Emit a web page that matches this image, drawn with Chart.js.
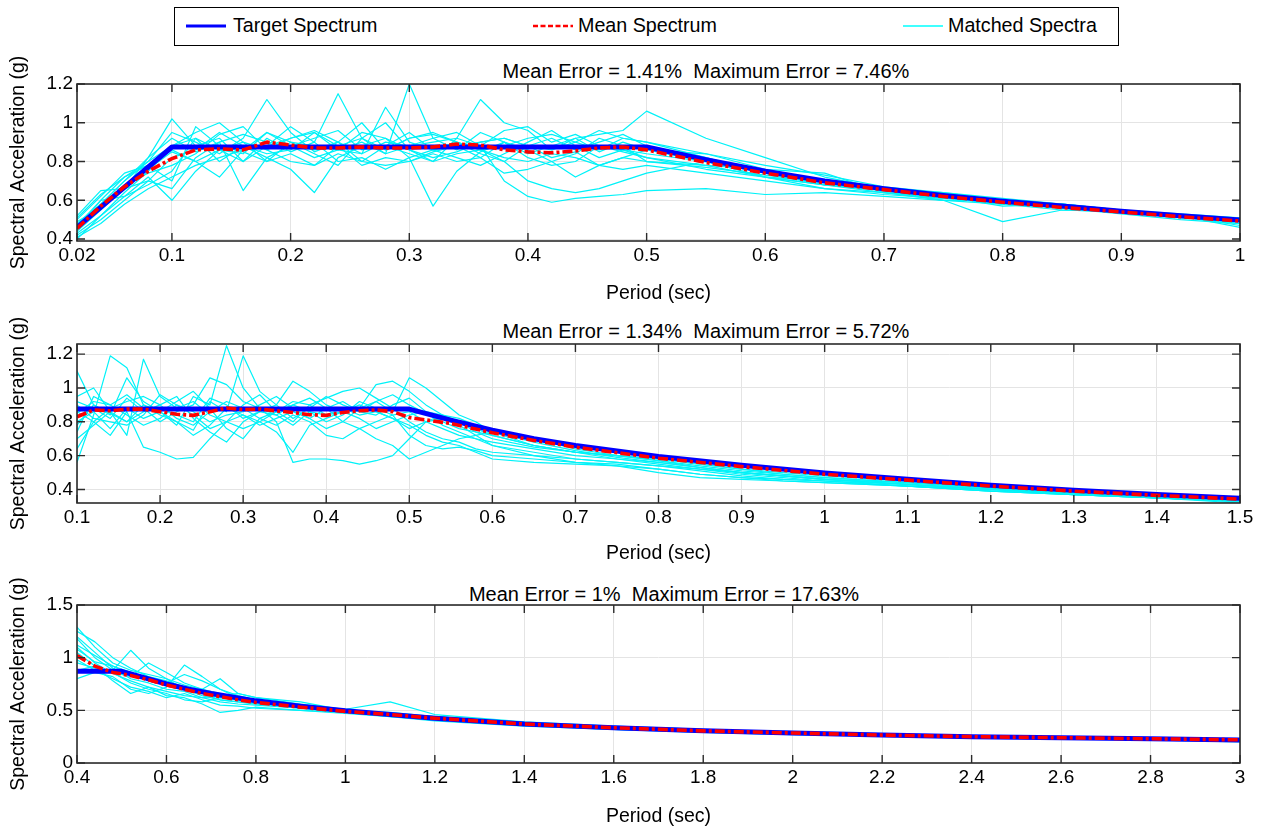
<!DOCTYPE html>
<html>
<head>
<meta charset="utf-8">
<script src="https://cdn.jsdelivr.net/npm/chart.js@4.4.1/dist/chart.umd.min.js"></script>
<style>
  html,body{margin:0;padding:0;background:#fff;}
  body{width:1263px;height:832px;overflow:hidden;position:relative;font-family:"Liberation Sans",Arial,Helvetica,sans-serif;color:#000;}
  canvas{position:absolute;left:0;}
  #legend{position:absolute;left:174px;top:7px;width:945px;height:39px;box-sizing:border-box;border:1.5px solid #000;background:#fff;}
  #legend svg{position:absolute;top:12.5px;}
  #legend span{position:absolute;top:4.5px;font-size:19.7px;line-height:24px;white-space:nowrap;}
  .ptitle{position:absolute;width:700px;text-align:center;font-size:20px;line-height:24px;white-space:pre;}
</style>
</head>
<body>
<div id="legend">
  <svg style="left:11px" width="40" height="10"><line x1="0" y1="5" x2="40" y2="5" stroke="#0000ff" stroke-width="3"/></svg>
  <span style="left:58px">Target Spectrum</span>
  <svg style="left:358px" width="40" height="10"><line x1="0" y1="5" x2="40" y2="5" stroke="#ff0000" stroke-width="2.4" stroke-dasharray="5,2.5"/></svg>
  <span style="left:403px">Mean Spectrum</span>
  <svg style="left:728px" width="40" height="10"><line x1="0" y1="5" x2="40" y2="5" stroke="#00ffff" stroke-width="1.6"/></svg>
  <span style="left:773px">Matched Spectra</span>
</div>

<div class="ptitle" id="t1" style="left:356px;top:58.5px"></div>
<div class="ptitle" id="t2" style="left:356px;top:319px"></div>
<div class="ptitle" id="t3" style="left:314px;top:582px"></div>

<canvas id="c1" width="1263" height="261" style="top:50px"></canvas>
<canvas id="c2" width="1263" height="263" style="top:310px"></canvas>
<canvas id="c3" width="1263" height="261" style="top:571px"></canvas>

<script>
// ---------------- DATA ----------------
const TITLE_1 = 'Mean Error = 1.41%  Maximum Error = 7.46%';
const TITLE_2 = 'Mean Error = 1.34%  Maximum Error = 5.72%';
const TITLE_3 = 'Mean Error = 1%  Maximum Error = 17.63%';

// Panel 1
const X_TICKS_1 = [0.02,0.1,0.2,0.3,0.4,0.5,0.6,0.7,0.8,0.9,1];
const Y_TICKS_1 = [0.4,0.6,0.8,1,1.2];
const PERIODS_1 = [0.02,0.04,0.06,0.08,0.1,0.12,0.14,0.16,0.18,0.2,0.22,0.24,0.26,0.28,0.3,0.32,0.34,0.36,0.38,0.4,0.42,0.44,0.46,0.48,0.5,0.55,0.6,0.65,0.7,0.75,0.8,0.85,0.9,0.95,1.0];
const TARGET_X_1 = [0.02,0.1,0.5,0.55,0.6,0.65,0.7,0.75,0.8,0.85,0.9,0.95,1.0];
const TARGET_Y_1 = [0.46,0.875,0.875,0.81,0.75,0.70,0.66,0.625,0.595,0.57,0.543,0.52,0.498];
const MEAN_Y_1 = [0.455,0.57,0.67,0.75,0.815,0.86,0.865,0.86,0.9,0.885,0.87,0.87,0.875,0.87,0.87,0.875,0.89,0.885,0.86,0.85,0.845,0.855,0.87,0.875,0.86,0.795,0.74,0.69,0.655,0.62,0.59,0.563,0.54,0.515,0.493];
const MATCHED_1 = [
  [0.46,0.58,0.70,0.80,0.95, 0.90,0.84,0.92,1.12,0.95, 0.85,0.90,0.80,0.88,0.95, 0.86,0.90,0.84,0.80,0.88, 0.92,0.86,0.90,0.94,0.88, 0.82,0.74,0.68,0.65,0.62, 0.59,0.56,0.54,0.51,0.49],
  [0.44,0.55,0.66,0.82,1.02, 0.88,0.92,0.80,0.88,0.98, 0.90,1.15,0.92,0.84,1.20, 0.92,0.86,0.95,0.90,0.84, 0.88,0.92,0.85,0.90,0.86, 0.80,0.72,0.70,0.66,0.63, 0.60,0.57,0.55,0.52,0.50],
  [0.50,0.62,0.74,0.78,0.70, 0.98,0.88,0.85,0.80,0.90, 0.84,0.78,0.92,1.00,0.86, 0.80,0.92,1.12,1.00,0.96, 0.86,0.92,0.94,0.96,1.06, 0.92,0.82,0.72,0.66,0.62, 0.58,0.56,0.54,0.52,0.50],
  [0.42,0.50,0.60,0.70,0.82, 0.86,0.95,0.88,0.82,0.76, 0.64,0.82,0.88,0.92,0.82, 0.57,0.75,0.85,0.90,0.82, 0.78,0.80,0.88,0.85,0.82, 0.76,0.72,0.66,0.64,0.60, 0.60,0.57,0.55,0.52,0.48],
  [0.47,0.60,0.72,0.80,0.88, 0.95,1.00,0.90,0.86,0.92, 0.95,0.86,0.84,0.90,0.88, 0.92,0.95,0.88,0.70,0.62, 0.59,0.61,0.62,0.63,0.65, 0.66,0.63,0.64,0.62,0.60, 0.58,0.55,0.54,0.51,0.49],
  [0.40,0.52,0.64,0.75,0.88, 0.92,0.86,0.80,0.92,0.85, 0.90,0.80,0.82,0.76,0.82, 0.86,0.88,0.90,0.92,0.88, 0.82,0.85,0.78,0.82,0.86, 0.84,0.76,0.70,0.65,0.60, 0.49,0.55,0.54,0.52,0.46],
  [0.52,0.65,0.66,0.76,0.85, 0.80,0.72,0.86,0.95,0.88, 0.92,0.96,0.86,0.88,0.84, 0.80,0.84,0.86,0.88,0.92, 0.94,0.90,0.86,0.92,0.90, 0.82,0.74,0.68,0.66,0.62, 0.58,0.57,0.54,0.52,0.50],
  [0.45,0.56,0.68,0.74,0.78, 0.84,0.94,0.98,0.86,0.80, 0.78,0.84,0.80,0.78,0.80, 0.85,0.88,0.82,0.74,0.76, 0.80,0.72,0.78,0.82,0.80, 0.78,0.76,0.74,0.64,0.62, 0.57,0.58,0.55,0.53,0.51],
  [0.48,0.58,0.70,0.82,0.92, 0.85,0.90,0.65,0.82,0.88, 0.86,0.90,0.84,1.08,0.90, 0.86,0.82,0.78,0.84,0.90, 0.96,0.88,0.82,0.86,0.84, 0.80,0.74,0.70,0.66,0.62, 0.59,0.56,0.53,0.50,0.48],
  [0.43,0.52,0.62,0.72,0.60, 0.75,0.86,0.90,0.80,0.84, 0.78,0.88,0.92,0.86,0.92, 0.95,0.90,0.86,0.82,0.80, 0.84,0.82,0.78,0.76,0.78, 0.74,0.70,0.66,0.63,0.61, 0.60,0.58,0.55,0.52,0.50],
  [0.49,0.56,0.66,0.70,0.66, 0.82,0.90,0.94,0.90,0.88, 0.82,0.86,0.90,0.84,0.88, 0.90,0.92,0.88,0.96,0.98, 0.90,0.94,0.88,0.86,0.82, 0.78,0.72,0.68,0.64,0.61, 0.59,0.56,0.54,0.51,0.49],
  [0.45,0.60,0.62,0.68,0.75, 0.92,0.80,0.88,0.84,0.86, 0.95,0.88,0.78,0.82,0.80, 0.84,0.80,0.82,0.90,0.86, 0.80,0.84,0.92,0.88,0.80, 0.77,0.73,0.69,0.65,0.63, 0.60,0.57,0.54,0.52,0.47],
  [0.51,0.63,0.72,0.78,0.86, 0.80,0.86,0.84,0.95,0.90, 0.88,0.86,0.95,0.92,0.86, 0.82,0.85,0.90,0.92,0.88, 0.86,0.90,0.96,0.92,0.90, 0.84,0.78,0.73,0.67,0.64, 0.61,0.58,0.55,0.52,0.51],
  [0.41,0.48,0.58,0.66,0.72, 0.78,0.82,0.86,0.88,0.92, 0.96,0.90,1.00,0.86,0.92, 0.94,0.90,0.86,0.80,0.70, 0.66,0.64,0.66,0.70,0.74, 0.80,0.72,0.68,0.66,0.64, 0.60,0.58,0.55,0.52,0.49]
];

// Panel 2
const X_TICKS_2 = [0.1,0.2,0.3,0.4,0.5,0.6,0.7,0.8,0.9,1,1.1,1.2,1.3,1.4,1.5];
const Y_TICKS_2 = [0.4,0.6,0.8,1,1.2];
const PERIODS_2 = [0.1,0.12,0.14,0.16,0.18,0.2,0.22,0.24,0.26,0.28,0.3,0.32,0.34,0.36,0.38,0.4,0.42,0.44,0.46,0.48,0.5,0.52,0.54,0.56,0.58,0.6,0.65,0.7,0.75,0.8,0.85,0.9,0.95,1.0,1.1,1.2,1.3,1.4,1.5];
const TARGET_X_2 = [0.1,0.5,0.55,0.6,0.65,0.7,0.8,0.9,1.0,1.1,1.2,1.3,1.4,1.5];
const TARGET_Y_2 = [0.875,0.875,0.81,0.75,0.70,0.66,0.595,0.543,0.498,0.46,0.425,0.395,0.37,0.348];
const MEAN_X_2 = [0.1,0.12,0.14,0.16,0.18,0.2,0.22,0.24,0.26,0.28,0.3,0.32,0.34,0.36,0.38,0.4,0.42,0.44,0.46,0.48,0.5,0.55,0.6,0.65,0.7,0.8,0.9,1.0,1.1,1.2,1.3,1.4,1.5];
const MEAN_Y_2 = [0.83,0.87,0.865,0.875,0.875,0.86,0.845,0.838,0.86,0.882,0.872,0.875,0.865,0.855,0.842,0.838,0.855,0.865,0.87,0.86,0.825,0.79,0.735,0.69,0.65,0.585,0.535,0.49,0.455,0.42,0.39,0.365,0.343];
const MATCHED_2 = [
  [1.10,0.90,0.85,0.80,0.90, 0.86,0.78,0.95,0.90,1.25, 1.00,0.88,0.84,0.90,0.86, 0.80,0.84,0.92,0.88,0.84, 0.86,0.80,0.76,0.72,0.70, 0.68,0.64,0.60,0.58,0.55, 0.52,0.50,0.48,0.46,0.43, 0.40,0.37,0.35,0.33],
  [0.56,0.84,1.19,1.12,0.90, 0.84,0.80,0.75,0.92,0.86, 1.19,0.98,0.90,0.82,0.88, 0.95,0.90,0.86,0.92,0.96, 0.90,0.85,0.80,0.76,0.74, 0.72,0.66,0.62,0.60,0.57, 0.53,0.50,0.48,0.46,0.44, 0.41,0.38,0.36,0.34],
  [0.95,1.00,0.86,0.72,1.17, 0.95,0.88,0.92,0.84,0.80, 0.90,0.96,0.86,0.92,0.90, 0.84,0.86,0.82,0.76,0.80, 0.84,0.86,0.84,0.78,0.72, 0.66,0.62,0.58,0.56,0.54, 0.51,0.48,0.46,0.45,0.42, 0.39,0.37,0.35,0.33],
  [0.64,0.80,0.72,0.86,0.65, 0.62,0.58,0.59,0.70,0.80, 0.76,0.80,0.74,0.62,0.78, 0.82,0.86,0.90,0.86,0.82, 0.78,0.72,0.68,0.66,0.62, 0.58,0.56,0.55,0.54,0.52, 0.49,0.47,0.46,0.45,0.43, 0.40,0.38,0.36,0.34],
  [0.85,0.92,0.90,0.96,0.88, 0.80,0.86,0.90,1.06,1.02, 0.92,0.88,0.80,0.56,0.58, 0.58,0.57,0.55,0.57,0.60, 0.70,0.80,0.82,0.80,0.76, 0.72,0.66,0.62,0.60,0.58, 0.55,0.52,0.49,0.47,0.44, 0.41,0.38,0.36,0.34],
  [0.92,0.88,0.82,0.94,0.86, 0.90,0.95,0.82,0.74,0.68, 0.80,0.86,0.90,1.04,0.98, 0.90,0.86,0.88,1.02,1.04, 0.98,0.90,0.84,0.80,0.74, 0.70,0.65,0.62,0.58,0.56, 0.53,0.50,0.48,0.46,0.43, 0.40,0.38,0.36,0.34],
  [0.80,0.86,0.76,0.88,0.82, 0.86,0.92,0.98,0.88,0.76, 0.70,0.82,0.86,0.80,0.90, 0.94,0.98,1.00,0.94,0.88, 0.80,0.74,0.70,0.68,0.64, 0.62,0.60,0.58,0.56,0.54, 0.52,0.49,0.47,0.45,0.42, 0.39,0.37,0.35,0.33],
  [0.74,0.95,0.90,0.84,0.78, 0.82,0.90,0.86,0.80,0.84, 0.86,0.90,0.95,0.88,0.82, 0.76,0.80,0.88,0.92,0.86, 1.06,1.00,0.92,0.84,0.80, 0.74,0.66,0.62,0.60,0.57, 0.54,0.51,0.49,0.47,0.44, 0.41,0.38,0.36,0.34],
  [0.86,0.80,0.88,0.92,0.95, 0.90,0.82,0.78,0.86,0.92, 0.88,0.82,0.78,0.84,0.80, 0.72,0.70,0.76,0.80,0.84, 0.72,0.66,0.64,0.65,0.63, 0.60,0.58,0.56,0.55,0.52, 0.49,0.47,0.45,0.44,0.42, 0.39,0.37,0.35,0.33],
  [0.78,0.90,0.84,1.06,0.92, 0.86,0.80,0.72,0.78,0.88, 0.84,0.80,0.86,0.90,0.94, 0.88,0.80,0.76,0.70,0.66, 0.58,0.62,0.66,0.70,0.72, 0.74,0.70,0.64,0.60,0.58, 0.55,0.52,0.50,0.48,0.45, 0.42,0.39,0.37,0.35],
  [0.90,0.82,0.80,0.78,0.84, 0.96,0.90,0.84,0.76,0.80, 0.84,0.78,0.82,0.86,0.82, 0.88,0.92,0.86,0.84,0.90, 0.94,0.86,0.78,0.74,0.70, 0.66,0.60,0.56,0.54,0.50, 0.47,0.46,0.45,0.44,0.42, 0.40,0.38,0.35,0.33],
  [0.70,0.78,0.86,0.80,0.86, 0.88,0.84,0.80,0.94,0.90, 0.82,0.86,0.84,0.78,0.86, 0.84,0.88,0.84,0.86,0.82, 0.76,0.80,0.84,0.82,0.78, 0.74,0.68,0.63,0.59,0.56, 0.53,0.50,0.48,0.46,0.43, 0.40,0.37,0.35,0.32]
];

// Panel 3
const X_TICKS_3 = [0.4,0.6,0.8,1,1.2,1.4,1.6,1.8,2,2.2,2.4,2.6,2.8,3];
const Y_TICKS_3 = [0,0.5,1,1.5];
const PERIODS_3 = [0.4,0.44,0.48,0.52,0.56,0.6,0.64,0.68,0.72,0.76,0.8,0.9,1.0,1.1,1.2,1.4,1.6,1.8,2.0,2.2,2.4,2.6,2.8,3.0];
const TARGET_X_3 = [0.4,0.5,0.55,0.6,0.65,0.7,0.8,0.9,1.0,1.2,1.4,1.6,1.8,2.0,2.2,2.4,2.6,2.8,3.0];
const TARGET_Y_3 = [0.87,0.87,0.81,0.75,0.70,0.66,0.59,0.54,0.495,0.425,0.37,0.335,0.305,0.285,0.265,0.25,0.24,0.23,0.218];
const MEAN_Y_3 = [1.02,0.92,0.86,0.83,0.79,0.74,0.70,0.66,0.63,0.60,0.575,0.53,0.49,0.46,0.425,0.37,0.335,0.305,0.285,0.265,0.25,0.24,0.23,0.22];
const MATCHED_3 = [
  [1.29,1.10,0.95,0.88,0.84, 0.80,0.74,0.70,0.66,0.62, 0.60,0.55,0.50,0.47,0.43, 0.37,0.33,0.30,0.28,0.26, 0.25,0.24,0.23,0.22],
  [1.25,1.15,1.00,0.90,0.82, 0.78,0.72,0.66,0.62,0.60, 0.58,0.52,0.49,0.45,0.42, 0.36,0.33,0.31,0.29,0.27, 0.25,0.24,0.23,0.21],
  [1.18,1.00,0.88,1.07,0.90, 0.80,0.70,0.64,0.60,0.58, 0.56,0.52,0.48,0.46,0.42, 0.37,0.34,0.31,0.28,0.26, 0.25,0.24,0.23,0.22],
  [0.80,0.86,0.82,0.70,0.66, 0.72,0.93,0.82,0.70,0.62, 0.58,0.54,0.50,0.48,0.44, 0.38,0.34,0.30,0.28,0.27, 0.25,0.24,0.22,0.21],
  [1.10,0.95,0.85,0.78,0.72, 0.68,0.64,0.62,0.64,0.66, 0.62,0.56,0.51,0.58,0.46, 0.39,0.35,0.32,0.29,0.27, 0.26,0.24,0.23,0.22],
  [1.05,0.92,0.78,0.66,0.72, 0.64,0.62,0.56,0.48,0.50, 0.53,0.50,0.47,0.44,0.41, 0.36,0.32,0.30,0.28,0.26, 0.24,0.23,0.22,0.21],
  [0.95,0.90,0.86,0.82,0.95, 0.86,0.76,0.70,0.80,0.66, 0.62,0.58,0.50,0.46,0.43, 0.37,0.33,0.31,0.29,0.27, 0.25,0.24,0.23,0.22],
  [1.20,1.05,0.90,0.80,0.76, 0.70,0.68,0.62,0.58,0.56, 0.55,0.52,0.48,0.45,0.42, 0.36,0.32,0.30,0.28,0.26, 0.25,0.24,0.22,0.21],
  [0.88,0.92,0.86,0.76,0.70, 0.66,0.60,0.58,0.62,0.60, 0.57,0.53,0.49,0.46,0.43, 0.37,0.34,0.31,0.29,0.27, 0.25,0.24,0.23,0.22],
  [1.12,1.02,0.92,0.84,0.80, 0.76,0.84,0.78,0.70,0.64, 0.60,0.55,0.50,0.47,0.44, 0.38,0.34,0.31,0.29,0.27, 0.25,0.24,0.23,0.22],
  [0.98,0.88,0.80,0.72,0.68, 0.62,0.66,0.60,0.55,0.54, 0.52,0.50,0.48,0.44,0.40, 0.35,0.32,0.29,0.27,0.26, 0.24,0.23,0.22,0.20],
  [1.08,0.96,0.92,0.86,0.78, 0.74,0.70,0.66,0.60,0.58, 0.56,0.53,0.49,0.47,0.44, 0.38,0.34,0.31,0.29,0.27, 0.25,0.24,0.23,0.22]
];

// ---------------- RENDER ----------------
const FONT = '"Liberation Sans", Arial, Helvetica, sans-serif';

function pts(xs, ys) { return xs.map((x, i) => ({ x: x, y: ys[i] })); }
function fmt(v) { return String(Math.round(v * 100) / 100); }

const framePlugin = {
  id: 'frameTicks',
  afterDatasetsDraw(chart) {
    const { ctx, chartArea: a, scales } = chart;
    const x = scales.x, y = scales.y, L = 8;
    ctx.save();
    ctx.strokeStyle = '#2b2b2b';
    ctx.lineWidth = 1.4;
    ctx.beginPath();
    x.ticks.forEach(t => {
      const p = x.getPixelForValue(t.value);
      ctx.moveTo(p, a.bottom); ctx.lineTo(p, a.bottom - L);
      ctx.moveTo(p, a.top); ctx.lineTo(p, a.top + L);
    });
    y.ticks.forEach(t => {
      const p = y.getPixelForValue(t.value);
      ctx.moveTo(a.left, p); ctx.lineTo(a.left + L, p);
      ctx.moveTo(a.right, p); ctx.lineTo(a.right - L, p);
    });
    ctx.stroke();
    ctx.lineWidth = 1.6;
    ctx.strokeRect(a.left, a.top, a.right - a.left, a.bottom - a.top);
    ctx.restore();
  }
};

function makePanel(id, cfg) {
  const datasets = [];
  datasets.push({ label: 'Mean Spectrum', data: pts(cfg.meanX, cfg.meanY), borderColor: '#ff0000',
    borderWidth: 3.6, borderDash: [10, 3, 3, 3], order: 0 });
  datasets.push({ label: 'Target Spectrum', data: pts(cfg.targetX, cfg.targetY), borderColor: '#0000ff',
    borderWidth: 5, order: 1 });
  cfg.matched.forEach(s => datasets.push({ label: 'Matched Spectra', data: pts(cfg.periods, s),
    borderColor: '#00f2f8', borderWidth: 1.2, order: 2 }));

  const tickFont = { family: FONT, size: 19 };
  const titleFont = { family: FONT, size: 19.5 };

  new Chart(document.getElementById(id), {
    type: 'line',
    data: { datasets },
    plugins: [framePlugin],
    options: {
      responsive: false,
      animation: false,
      events: [],
      layout: { padding: { left: 0, right: 23, top: 34, bottom: 0 } },
      elements: { point: { radius: 0 }, line: { tension: 0, fill: false, borderJoinStyle: 'round' } },
      plugins: { legend: { display: false }, tooltip: { enabled: false }, title: { display: false } },
      scales: {
        x: {
          type: 'linear', min: cfg.xMin, max: cfg.xMax,
          afterBuildTicks: s => { s.ticks = cfg.xTicks.map(v => ({ value: v })); },
          afterFit: s => { s.height = cfg.xHeight; },
          ticks: { callback: v => fmt(v), font: tickFont, color: '#000', padding: 3, maxRotation: 0, minRotation: 0, autoSkip: false },
          grid: { color: '#e4e4e4', lineWidth: 1, drawTicks: false },
          border: { display: false },
          title: { display: true, text: 'Period (sec)', font: titleFont, color: '#000', padding: { top: 0, bottom: cfg.xTitlePad } }
        },
        y: {
          type: 'linear', min: cfg.yMin, max: cfg.yMax,
          afterBuildTicks: s => { s.ticks = cfg.yTicks.map(v => ({ value: v })); },
          afterFit: s => { s.width = 77; },
          ticks: { callback: v => fmt(v), font: tickFont, color: '#000', padding: 4, autoSkip: false },
          grid: { color: '#e4e4e4', lineWidth: 1, drawTicks: false },
          border: { display: false },
          title: { display: true, text: 'Spectral Acceleration (g)', font: titleFont, color: '#000', padding: { top: 7, bottom: 0 } }
        }
      }
    }
  });
}

document.getElementById('t1').textContent = TITLE_1;
document.getElementById('t2').textContent = TITLE_2;
document.getElementById('t3').textContent = TITLE_3;

makePanel('c1', { periods: PERIODS_1, matched: MATCHED_1, targetX: TARGET_X_1, targetY: TARGET_Y_1,
  meanX: PERIODS_1, meanY: MEAN_Y_1, xMin: 0.02, xMax: 1, yMin: 0.39, yMax: 1.2,
  xTicks: X_TICKS_1, yTicks: Y_TICKS_1, xHeight: 70, xTitlePad: 6 });
makePanel('c2', { periods: PERIODS_2, matched: MATCHED_2, targetX: TARGET_X_2, targetY: TARGET_Y_2,
  meanX: MEAN_X_2, meanY: MEAN_Y_2, xMin: 0.1, xMax: 1.5, yMin: 0.32, yMax: 1.26,
  xTicks: X_TICKS_2, yTicks: Y_TICKS_2, xHeight: 70, xTitlePad: 8 });
makePanel('c3', { periods: PERIODS_3, matched: MATCHED_3, targetX: TARGET_X_3, targetY: TARGET_Y_3,
  meanX: PERIODS_3, meanY: MEAN_Y_3, xMin: 0.4, xMax: 3, yMin: 0, yMax: 1.5,
  xTicks: X_TICKS_3, yTicks: Y_TICKS_3, xHeight: 69, xTitlePad: 4 });
</script>
</body>
</html>
